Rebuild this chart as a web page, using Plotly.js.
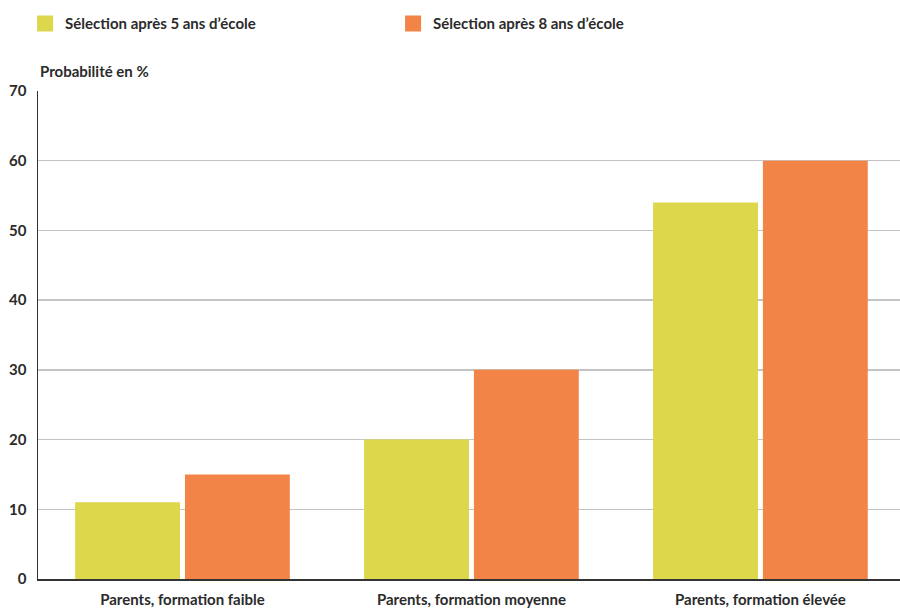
<!DOCTYPE html>
<html>
<head>
<meta charset="utf-8">
<script src="https://cdn.plot.ly/plotly-3.0.1.min.js"></script>
<style>html,body{margin:0;padding:0;background:#fff;}#chart{width:900px;height:610px;}</style>
</head>
<body>
<div id="chart"></div>
<script>
const categories = ["Parents, formation faible", "Parents, formation moyenne", "Parents, formation élevée"];
const seriesNames = ["Sélection après 5 ans d’école", "Sélection après 8 ans d’école"];
const after5 = [11, 20, 54];
const after8 = [15, 30, 60];
const yTicks = [0, 10, 20, 30, 40, 50, 60, 70];
const colors = ["#DCD74B", "#F38447"];
const FONT = "Lato, 'Noto Sans', sans-serif";
const TXT = "#2b2b2b";

const traces = [
  {type: "bar", x: categories, y: after5, name: seriesNames[0], marker: {color: colors[0]}, showlegend: false, hoverinfo: "skip"},
  {type: "bar", x: categories, y: after8, name: seriesNames[1], marker: {color: colors[1]}, showlegend: false, hoverinfo: "skip"},
  {type: "scatter", mode: "markers", x: [null], y: [null], name: seriesNames[0], marker: {symbol: "square", size: 20, color: colors[0]}},
  {type: "scatter", mode: "markers", x: [null], y: [null], name: seriesNames[1], marker: {symbol: "square", size: 20, color: colors[1]}}
];

const layout = {
  width: 900, height: 610,
  margin: {l: 38, r: 0, t: 91, b: 31, autoexpand: false},
  paper_bgcolor: "#fff", plot_bgcolor: "#fff",
  font: {family: FONT, color: TXT, size: 15, weight: 700},
  barmode: "group",
  bargap: 0.24,
  bargroupgap: 0.045,
  showlegend: true,
  legend: {orientation: "h", x: -0.015, xanchor: "left", y: 1.138, yanchor: "middle",
           font: {family: FONT, size: 15, color: TXT, weight: 700},
           itemsizing: "trace", entrywidth: 323, entrywidthmode: "pixels", tracegroupgap: 0},
  xaxis: {type: "category", range: [-0.5, 2.483], showgrid: false, showline: true, linecolor: "#333", linewidth: 1.5,
          ticks: "", ticklabelstandoff: 6, tickfont: {family: FONT, size: 15, color: TXT, weight: 700}, fixedrange: true},
  yaxis: {range: [0, 70], tickvals: yTicks, ticktext: yTicks.map(String), showgrid: true, gridcolor: "#c4c4c4", gridwidth: 1.5,
          showline: true, linecolor: "#333", linewidth: 1.5, zeroline: false, ticks: "", ticklabelstandoff: 7,
          tickfont: {family: FONT, size: 15, color: TXT, weight: 700}, fixedrange: true},
  annotations: [{text: "Probabilité en %", xref: "paper", yref: "paper", x: 0, xanchor: "left", y: 1.041, yanchor: "middle",
                 showarrow: false, font: {family: FONT, size: 15, color: TXT, weight: 700}}]
};

Plotly.newPlot("chart", traces, layout, {displayModeBar: false, staticPlot: true});
</script>
</body>
</html>
